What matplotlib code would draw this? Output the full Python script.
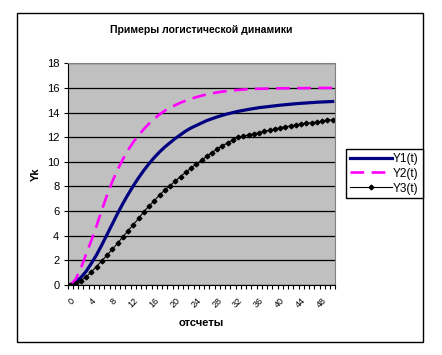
import numpy as np
import matplotlib.pyplot as plt
import matplotlib.transforms as mtransforms
from matplotlib.patches import Rectangle

plt.rcParams['font.family'] = ['Liberation Sans', 'DejaVu Sans']

# values, one per count (0..50)
t = list(range(51))
y1 = [0, 0.25, 0.6, 1.1, 1.75, 2.45, 3.25, 4.1, 4.95, 5.8,
      6.6, 7.35, 8.05, 8.7, 9.3, 9.85, 10.35, 10.8, 11.2, 11.55,
      11.9, 12.2, 12.5, 12.75, 12.95, 13.15, 13.35, 13.5, 13.65, 13.78,
      13.9, 14.0, 14.1, 14.18, 14.26, 14.33, 14.4, 14.45, 14.5, 14.55,
      14.6, 14.64, 14.68, 14.72, 14.75, 14.78, 14.81, 14.84, 14.86, 14.88,
      14.9]
y2 = [0, 0.45, 1.35, 2.5, 3.6, 4.8, 6.1, 7.3, 8.4, 9.35,
      10.2, 10.95, 11.6, 12.15, 12.65, 13.1, 13.5, 13.85, 14.15, 14.4,
      14.6, 14.8, 14.97, 15.12, 15.25, 15.37, 15.47, 15.56, 15.64, 15.7,
      15.76, 15.8, 15.84, 15.87, 15.9, 15.92, 15.93, 15.94, 15.95, 15.96,
      15.97, 15.97, 15.98, 15.98, 15.98, 15.99, 15.99, 15.99, 16.0, 16.0,
      16.0]
y3 = [0, 0.15, 0.35, 0.65, 1.05, 1.5, 1.97, 2.42, 2.9, 3.38,
      3.9, 4.4, 4.9, 5.4, 5.95, 6.4, 6.85, 7.3, 7.7, 8.06,
      8.44, 8.8, 9.15, 9.5, 9.82, 10.12, 10.45, 10.75, 11.05, 11.3,
      11.55, 11.78, 11.98, 12.1, 12.2, 12.28, 12.37, 12.47, 12.57, 12.67,
      12.77, 12.85, 12.92, 13.0, 13.07, 13.13, 13.18, 13.24, 13.3, 13.37,
      13.43]
labels = ['Y1(t)', 'Y2(t)', 'Y3(t)']

fig = plt.figure(figsize=(4.42, 3.55), dpi=100)
fig.patches.append(Rectangle((17 / 442, 1 - 342 / 355), 406 / 442, 329 / 355,
                             transform=fig.transFigure, fill=False,
                             edgecolor='black', linewidth=1.0))

ax = fig.add_axes([67.7 / 442, 1 - 285 / 355, 267.6 / 442, 221.7 / 355])
ax.set_facecolor('#C0C0C0')

ax.plot(t, y1, color='#000080', linewidth=2.3, label=labels[0])
ax.plot(t, y2, color='#FF00FF', linewidth=1.9, dashes=(5.2, 2.8), label=labels[1])
ax.plot(t, y3, color='black', linewidth=0.8, marker='D', markersize=2.4,
        label=labels[2])

ax.set_xlim(-0.5, len(t) - 0.5)
ax.set_ylim(0, 18)
ax.set_yticks(np.arange(0, 19, 2))
ax.yaxis.grid(True, color='black', linewidth=0.9)
ax.set_axisbelow(True)

ax.set_xticks(t[::4])
ax.set_xticklabels([str(v) for v in t[::4]], rotation=45, fontsize=6.5,
                   ha='right', va='top', rotation_mode='anchor')
# nudge the slanted labels a little left, as in the reference
shift = mtransforms.ScaledTranslation(-4 / 100, 0, fig.dpi_scale_trans)
for lab in ax.get_xticklabels():
    lab.set_transform(lab.get_transform() + shift)
ax.set_xticks(np.arange(-0.5, len(t), 1), minor=True)
ax.tick_params(axis='x', which='major', length=0, pad=8)
ax.tick_params(axis='x', which='minor', length=3, width=0.8, direction='out')
ax.tick_params(axis='y', length=3, width=0.8, labelsize=8, pad=3)

for s in ['top', 'right']:
    ax.spines[s].set_color('#808080')
for s in ['left', 'bottom']:
    ax.spines[s].set_color('black')

ax.set_title('Примеры логистической динамики', fontsize=7.5, fontweight='bold',
             pad=22)
ax.set_xlabel('отсчеты', fontsize=8, fontweight='bold', labelpad=6)
ax.set_ylabel('Yk', fontsize=8, fontweight='bold', labelpad=4)

leg = fig.legend(loc='center left', bbox_to_anchor=(346 / 442, 1 - 173.6 / 355),
                 fontsize=8.5, handlelength=3.6, handletextpad=0.1,
                 borderpad=0.3, labelspacing=0.25, fancybox=False,
                 edgecolor='black', framealpha=1, borderaxespad=0)
leg.get_frame().set_linewidth(1.0)

fig.savefig('out.png', dpi=100)
